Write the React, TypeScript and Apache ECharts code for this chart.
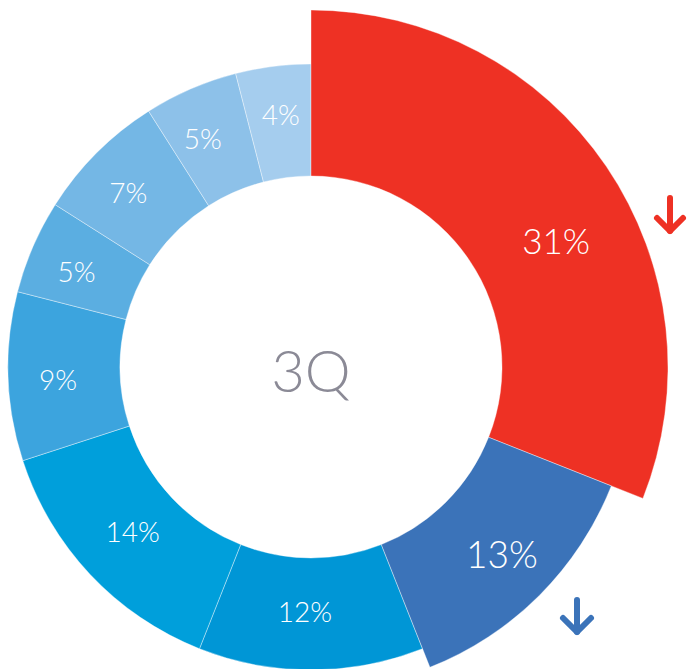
import React, { useEffect, useRef } from 'react';
import * as echarts from 'echarts';

// ---- data ----
const shares = [31, 13, 12, 14, 9, 5, 7, 5, 4];
const sliceColors = ['#EE3124', '#3B73B9', '#0096D6', '#009FDB', '#3CA4DE', '#5BAEE1', '#74B7E5', '#8DC1E9', '#A5CDEE'];
const centerLabel = '3Q';
const redIndex = 0;
const blueIndex = 1;

// label fine placement (style only): [dx, dy] in px relative to the slice's default inside position
const labelNudge = [[16, 29], [7, 3], [-6, -6], [4, -7], [-3, 4], [-5, 3], [-6, 2], [-9, 0], [1, -5]];

const FONT = 'Lato, "Open Sans", sans-serif';
const CENTER = [311, 367];

type RingOpts = {
  radius: [number, number];
  show: (i: number) => boolean;
  fontSize: number;
};

function labelFor(i: number, fontSize: number) {
  const [dx, dy] = labelNudge[i];
  const lh = Math.round(fontSize * 1.2);
  const gapH = Math.abs(dy) * 2;
  let formatter = '{v|{c}%}';
  if (dy > 0) formatter = '{g| }\n' + formatter;
  else if (dy < 0) formatter = formatter + '\n{g| }';
  const padding = dx >= 0 ? [0, 0, 0, dx * 2] : [0, -dx * 2, 0, 0];
  return {
    show: true,
    position: 'inside',
    formatter,
    padding,
    rich: {
      v: { color: '#ffffff', fontFamily: FONT, fontWeight: 300, fontSize, lineHeight: lh, height: lh },
      g: { fontSize: 1, lineHeight: gapH, height: gapH },
    },
  };
}

function ring(o: RingOpts) {
  return {
    type: 'pie',
    center: CENTER,
    radius: o.radius,
    startAngle: 90,
    clockwise: true,
    silent: true,
    avoidLabelOverlap: false,
    labelLine: { show: false },
    data: shares.map((v, i) => {
      const on = o.show(i);
      return {
        value: v,
        itemStyle: on
          ? { color: sliceColors[i], borderColor: 'rgba(255,255,255,0.55)', borderWidth: 0.7 }
          : { color: 'rgba(0,0,0,0)', borderWidth: 0 },
        label: on ? labelFor(i, o.fontSize) : { show: false },
      };
    }),
  };
}

function arrow(x: number, yTop: number, yTip: number, half: number, color: string) {
  const common = { style: { stroke: color, lineWidth: 6, lineCap: 'round', lineJoin: 'round', fill: 'none' } };
  return [
    { type: 'line', shape: { x1: x, y1: yTop, x2: x, y2: yTip }, ...common },
    {
      type: 'polyline',
      shape: { points: [[x - half, yTip - half], [x, yTip], [x + half, yTip - half]] },
      ...common,
    },
  ];
}

export default function App() {
  const ref = useRef<HTMLDivElement>(null);
  useEffect(() => {
    if (!ref.current) return;
    const chart = echarts.init(ref.current, undefined, { renderer: 'svg' });
    chart.setOption({
      animation: false,
      backgroundColor: '#ffffff',
      series: [
        ring({ radius: [191, 303], show: (i) => i !== redIndex && i !== blueIndex, fontSize: 28 }),
        ring({ radius: [191, 357], show: (i) => i === redIndex, fontSize: 35 }),
        ring({ radius: [191, 323], show: (i) => i === blueIndex, fontSize: 37 }),
      ],
      graphic: [
        {
          type: 'text',
          x: CENTER[0],
          y: CENTER[1] + 2,
          style: {
            text: centerLabel,
            fill: '#8B8A96',
            font: `300 58px ${FONT}`,
            textAlign: 'center',
            textVerticalAlign: 'middle',
          },
        },
        ...arrow(670, 198, 231, 13, sliceColors[redIndex]),
        ...arrow(577, 600, 632, 14, sliceColors[blueIndex]),
      ],
    });
    return () => chart.dispose();
  }, []);
  return <div ref={ref} style={{ position: 'fixed', left: 0, top: 0, width: 691, height: 669 }} />;
}
